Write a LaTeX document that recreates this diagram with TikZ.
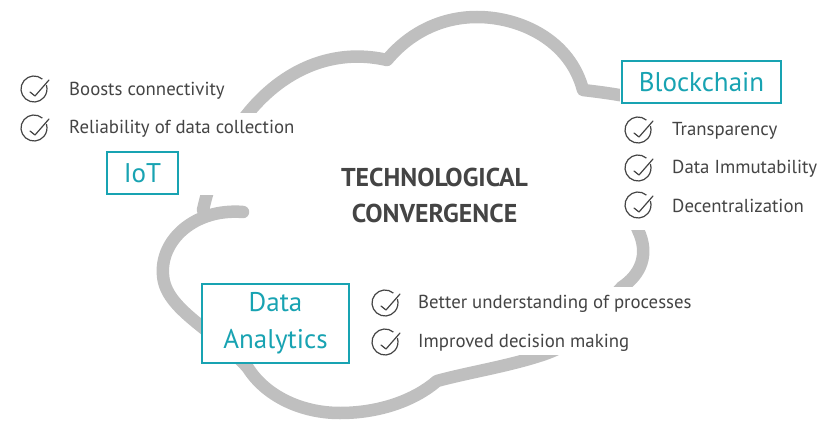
\documentclass[tikz,border=0pt]{standalone}
\usepackage{fontspec}
\setmainfont{PT Sans}
\usepackage{xcolor}
\usepackage{tikz}

\definecolor{cloudgray}{RGB}{191,191,191}
\definecolor{techteal}{RGB}{24,163,178}
\definecolor{textgray}{RGB}{68,68,68}

\begin{document}
\begin{tikzpicture}[x=1pt,y=1pt,
        itemtext/.style={anchor=west,inner sep=0pt,text=textgray,font=\fontsize{18.8}{20}\selectfont},
        techbox/.style={draw=techteal,line width=1.3,fill=white,text=techteal,inner sep=0pt,align=center,font=\fontsize{27}{37}\selectfont},
        mask/.style={fill=white,draw=none},
        checkmark/.pic={
            \draw[textgray,line width=1.2] (50:13) arc[start angle=50,end angle=378,radius=13];
            \draw[textgray,line width=1.2,line join=round,line cap=round] (-4,-3)--(1,-7)--(15,9);
        }]
        \useasboundingbox (0,0) rectangle (830,-428);

        \draw[cloudgray,line width=12.5,line cap=round,line join=round]
            (243,-212) .. controls (195,-208) and (160,-240) .. (163,-275)
            .. controls (165,-310) and (215,-330) .. (248,-368)
            .. controls (265,-395) and (300,-413) .. (340,-413)
            .. controls (380,-413) and (415,-400) .. (437,-381)
            .. controls (470,-372) and (510,-366) .. (545,-354)
            .. controls (585,-340) and (600,-310) .. (622,-287)
            .. controls (640,-275) and (650,-255) .. (638,-230)
            .. controls (625,-205) and (665,-110) .. (630,-97)
            .. controls (615,-94) and (600,-92) .. (583,-90)
            .. controls (570,-40) and (520,-17) .. (477,-17)
            .. controls (445,-17) and (412,-30) .. (387,-60)
            .. controls (300,-40) and (225,-110) .. (203,-210);

        \fill[mask] (0,-113) rectangle (268,-195);
        \fill[mask] (620,-62) rectangle (830,-230);
        \fill[mask] (360,-287) rectangle (705,-355);

        \node[textgray,font=\bfseries\fontsize{25.8}{36}\selectfont,align=center] (title) at (434.5,-195) {TECHNOLOGICAL\\CONVERGENCE};

        \node[techbox,minimum width=71,minimum height=42] (iot) at (142.5,-173) {IoT};
        \node[techbox,minimum width=159,minimum height=42] (blockchain) at (701.5,-82) {Blockchain};
        \node[techbox,minimum width=147,minimum height=79] (analytics) at (275.5,-323.5) {Data\\Analytics};

        \pic at (34,-89) {checkmark};
        \node[itemtext] (iot1) at (69,-91) {Boosts connectivity};
        \pic at (34,-128) {checkmark};
        \node[itemtext] (iot2) at (69,-129) {Reliability of data collection};

        \pic at (638,-130) {checkmark};
        \node[itemtext] (bc1) at (672,-131) {Transparency};
        \pic at (638,-168) {checkmark};
        \node[itemtext] (bc2) at (672,-169) {Data Immutability};
        \pic at (638,-205) {checkmark};
        \node[itemtext] (bc3) at (672,-206) {Decentralization};

        \pic at (385,-303) {checkmark};
        \node[itemtext] (da1) at (418,-304) {Better understanding of processes};
        \pic at (385,-342) {checkmark};
        \node[itemtext] (da2) at (418,-343) {Improved decision making};
\end{tikzpicture}
\end{document}
